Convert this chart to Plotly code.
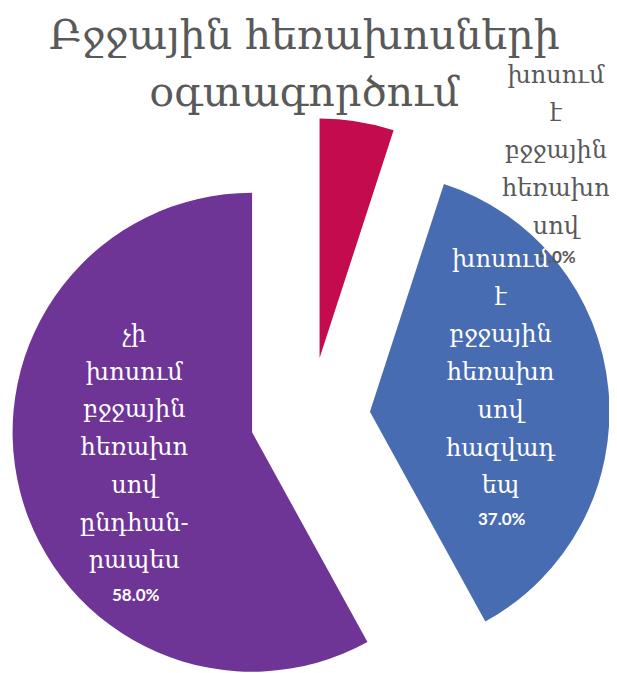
import math
import plotly.graph_objects as go

# ---- data ----
categories = [
    "խոսում է բջջային հեռախոսով",
    "խոսում է բջջային հեռախոսով հազվադեպ",
    "չի խոսում բջջային հեռախոսով ընդհանրապես",
]
values = [5.0, 37.0, 58.0]
label_lines = [
    ["խոսում", "է", "բջջային", "հեռախո", "սով"],
    ["խոսում", "է", "բջջային", "հեռախո", "սով", "հազվադ", "եպ"],
    ["չի", "խոսում", "բջջային", "հեռախո", "սով", "ընդհան-", "րապես"],
]
colors = ["#C30B4E", "#486CB1", "#6E3597"]
label_colors = ["#595959", "white", "white"]
title_lines = ["Բջջային հեռախոսների", "օգտագործում"]

# ---- layout constants (page pixels; the plot div sits 8px in from the page corner) ----
W, H = 617, 673
OFF = 8
R = 239.5
CX, CY = 310.2, 417.3
PULL = 60
ARM = "DejaVu Serif"
PCT = "Lato"
# label block centres (words) and percent centres, page pixels
word_pos = [(556, 150), (501, 372), (134, 447)]
pct_pos = [(557, 256), (502, 518), (136, 594)]


def px(x):
    return (x - OFF) / W


def py(y):
    return 1 - (y - OFF) / H


fig = go.Figure()
total = sum(values)
cum = 0.0
for i, v in enumerate(values):
    mid = (cum + v / 2) / total * 2 * math.pi
    cum += v
    cx = CX - OFF + PULL * math.sin(mid)
    cy = CY - OFF - PULL * math.cos(mid)
    mcolors = ["rgba(0,0,0,0)"] * len(values)
    mcolors[i] = colors[i]
    fig.add_trace(go.Pie(
        values=values, labels=categories, sort=False, direction="clockwise",
        rotation=0,
        marker=dict(colors=mcolors, line=dict(width=0)),
        textinfo="none",
        domain=dict(x=[(cx - R) / W, (cx + R) / W],
                    y=[(H - cy - R) / H, (H - cy + R) / H]),
        showlegend=False, hoverinfo="skip",
    ))

for i, v in enumerate(values):
    words = "<br>".join(f"<span style='font-size:24px'>{w}</span>" for w in label_lines[i])
    fig.add_annotation(
        text=words, x=px(word_pos[i][0]), y=py(word_pos[i][1]),
        xref="paper", yref="paper", xanchor="center", yanchor="middle",
        showarrow=False, font=dict(color=label_colors[i], size=29, family=ARM),
    )
    fig.add_annotation(
        text=f"<b>{v / total * 100:.1f}%</b>",
        x=px(pct_pos[i][0]), y=py(pct_pos[i][1]),
        xref="paper", yref="paper", xanchor="center", yanchor="middle",
        showarrow=False, font=dict(color=label_colors[i], size=17, family=PCT),
    )

fig.add_annotation(
    text="<br>".join(f"<span style='font-size:41px'>{t}</span>" for t in title_lines),
    x=px(304), y=py(63), xref="paper", yref="paper",
    xanchor="center", yanchor="middle", showarrow=False,
    font=dict(family=ARM, size=44, color="#595959"),
)

fig.update_layout(
    width=W, height=H,
    margin=dict(l=0, r=0, t=0, b=0),
    paper_bgcolor="white", plot_bgcolor="white",
)

fig.write_html("out.html")
